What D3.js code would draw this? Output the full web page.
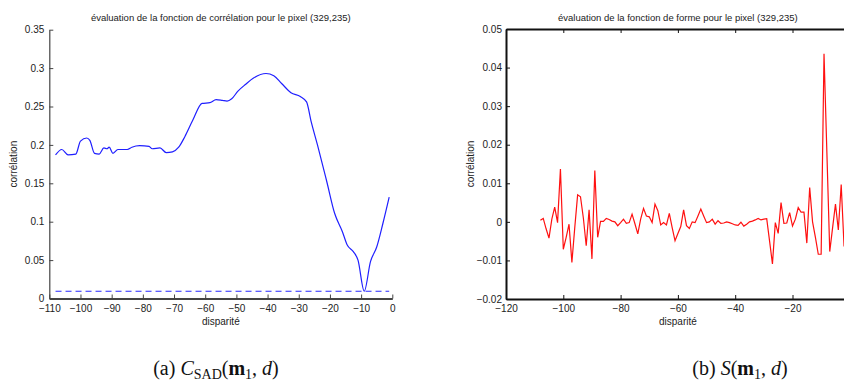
<!DOCTYPE html>
<html><head><meta charset="utf-8">
<script src="https://cdn.jsdelivr.net/npm/d3@7"></script>
<style>
html,body{margin:0;padding:0;background:#fff;}
svg{display:block;font-family:"Liberation Sans",Arial,sans-serif;}
</style></head>
<body>
<svg id="chart" width="844" height="385"></svg>
<script>
// ---- data (left: correlation function) ----
const leftDisp = [-108,-106,-104,-101.5,-100,-98,-97,-95.5,-94,-92.5,-91.5,-90.8,-89.6,-88,-85,-83.5,-81,-78,-77,-74.5,-72.5,-70.5,-68.5,-66.5,-64,-61,-58.5,-56.5,-54.5,-53,-51.5,-49.5,-47,-44.5,-40.5,-38,-35.5,-32.5,-29.5,-27.5,-26,-24,-21,-18.5,-16,-14.5,-12.5,-11,-9,-7,-5,-3,-1];
const leftCorr = [0.187,0.194,0.187,0.188,0.205,0.209,0.206,0.189,0.188,0.196,0.195,0.197,0.189,0.194,0.194,0.197,0.199,0.198,0.195,0.196,0.190,0.191,0.197,0.211,0.232,0.254,0.255,0.259,0.258,0.257,0.260,0.270,0.279,0.287,0.293,0.290,0.280,0.268,0.263,0.256,0.230,0.200,0.152,0.111,0.087,0.070,0.061,0.050,0.0095,0.048,0.067,0.098,0.132];
const leftMinLevel = 0.0095;
const leftMinRange = [-108, -1];
// ---- data (right: shape function) ----
const rightDisp = d3.range(-108, 0);
const rightVal = [0.0004,0.0009,-0.0018,-0.0042,0.0007,0.0038,-0.0002,0.0137,-0.0071,-0.0040,-0.0006,-0.0105,-0.0015,0.0070,0.0065,0.0010,-0.0062,0.0031,-0.0096,0.0133,-0.0040,0.0001,0.0001,0.0009,0.0006,0.0002,0.0000,-0.0010,-0.0002,0.0007,-0.0004,-0.0002,0.0020,-0.0005,-0.0031,0.0007,0.0035,0.0015,0.0013,-0.0002,0.0046,0.0029,-0.0008,-0.0002,-0.0008,0.0022,-0.0015,-0.0049,-0.0030,-0.0012,0.0031,-0.0010,-0.0017,0.0000,-0.0002,0.0015,0.0033,0.0015,-0.0002,0.0000,0.0007,-0.0006,0.0003,-0.0004,-0.0003,0.0000,-0.0002,-0.0005,-0.0008,-0.0009,-0.0001,-0.0011,-0.0006,0.0000,0.0002,0.0005,0.0009,0.0005,0.0007,0.0008,-0.0050,-0.0109,-0.0002,-0.0030,0.0050,-0.0004,-0.0003,0.0024,-0.0011,0.0007,0.0037,0.0025,0.0025,-0.0055,0.0089,0.0000,-0.0040,-0.0084,-0.0084,0.0436,0.0180,-0.0077,-0.0015,0.0046,-0.0021,0.0097,-0.0064,0.0020];
// ---- ticks / labels ----
const leftXTicks = d3.range(-110, 1, 10);
const leftYTicks = [0,0.05,0.1,0.15,0.2,0.25,0.3,0.35];
const rightXTicks = d3.range(-120, 1, 20);
const rightYTicks = [-0.02,-0.01,0,0.01,0.02,0.03,0.04,0.05];
const leftTitle = "évaluation de la fonction de corrélation pour le pixel (329,235)";
const rightTitle = "évaluation de la fonction de forme pour le pixel (329,235)";
const xLabel = "disparité";
const yLabel = "corrélation";

const svg = d3.select("#chart");
svg.append("rect").attr("width",844).attr("height",385).attr("fill","#fff");

const fmt = d => d3.format("")(d);

// ===== Left chart =====
const L = {x0:49.3, x1:392.3, y0:298.5, y1:29.7};
const lx = d3.scaleLinear().domain([-110,0]).range([L.x0,L.x1]);
const ly = d3.scaleLinear().domain([0,0.35]).range([L.y0,L.y1]);
const gl = svg.append("g");

gl.append("line").attr("x1",lx(leftMinRange[0])).attr("x2",lx(leftMinRange[1]))
  .attr("y1",ly(leftMinLevel)).attr("y2",ly(leftMinLevel))
  .attr("stroke","#2a2aff").attr("stroke-width",1.1).attr("stroke-dasharray","6,4");

gl.append("path").datum(leftDisp.map((d,i)=>[d,leftCorr[i]]))
  .attr("fill","none").attr("stroke","#1f1fff").attr("stroke-width",1.2)
  .attr("d", d3.line().x(d=>lx(d[0])).y(d=>ly(d[1])).curve(d3.curveMonotoneX));

const lxa = gl.append("g").attr("transform",`translate(0,${L.y0})`)
  .call(d3.axisBottom(lx).tickValues(leftXTicks).tickFormat(fmt).tickSizeInner(-4).tickSizeOuter(0).tickPadding(6));
const lya = gl.append("g").attr("transform",`translate(${L.x0},0)`)
  .call(d3.axisLeft(ly).tickValues(leftYTicks).tickFormat(fmt).tickSizeInner(-4).tickSizeOuter(0).tickPadding(5));
[lxa,lya].forEach(a=>{
  a.selectAll("text").attr("font-size",10).attr("fill","#222").attr("font-family","Liberation Sans, Arial, sans-serif");
  a.selectAll("line").attr("stroke","#444");
  a.select(".domain").attr("stroke","#444");
});
lxa.select(".domain").attr("stroke-width",2);
lya.select(".domain").attr("stroke-width",1.2);

gl.append("text").attr("x",(L.x0+L.x1)/2).attr("y",20.5).attr("text-anchor","middle")
  .attr("font-size",9.5).attr("fill","#222").text(leftTitle);
gl.append("text").attr("x",(L.x0+L.x1)/2).attr("y",324.5).attr("text-anchor","middle")
  .attr("font-size",10).attr("fill","#222").text(xLabel);
gl.append("text").attr("transform",`translate(16.5,${(L.y0+L.y1)/2}) rotate(-90)`).attr("text-anchor","middle")
  .attr("font-size",10).attr("fill","#222").text(yLabel);

// ===== Right chart =====
const R = {x0:506, x1:849.8, y0:299, y1:29};
const rx = d3.scaleLinear().domain([-120,0]).range([R.x0,R.x1]);
const ry = d3.scaleLinear().domain([-0.02,0.05]).range([R.y0,R.y1]);
const gr = svg.append("g");

gr.append("path").datum(rightDisp.map((d,i)=>[d,rightVal[i]]))
  .attr("fill","none").attr("stroke","#ff1010").attr("stroke-width",1.2)
  .attr("stroke-linejoin","miter")
  .attr("d", d3.line().x(d=>rx(d[0])).y(d=>ry(d[1])));

const rxa = gr.append("g").attr("transform",`translate(0,${R.y0})`)
  .call(d3.axisBottom(rx).tickValues(rightXTicks).tickFormat(fmt).tickSizeInner(-4).tickSizeOuter(0).tickPadding(6));
const rxt = gr.append("g").attr("transform",`translate(0,${R.y1})`)
  .call(d3.axisTop(rx).tickValues(rightXTicks).tickFormat("").tickSizeInner(-4).tickSizeOuter(0));
const rya = gr.append("g").attr("transform",`translate(${R.x0},0)`)
  .call(d3.axisLeft(ry).tickValues(rightYTicks).tickFormat(fmt).tickSizeInner(-4).tickSizeOuter(0).tickPadding(4));
const ryr = gr.append("g").attr("transform",`translate(${R.x1},0)`)
  .call(d3.axisRight(ry).tickValues(rightYTicks).tickFormat("").tickSizeInner(-4).tickSizeOuter(0));
[rxa,rxt,rya,ryr].forEach(a=>{
  a.selectAll("text").attr("font-size",10).attr("fill","#222").attr("font-family","Liberation Sans, Arial, sans-serif");
  a.selectAll("line").attr("stroke","#111");
  a.select(".domain").attr("stroke","#111").attr("stroke-width",2);
});
rxa.selectAll(".tick").filter(d=>d===0).select("text").remove();

gr.append("text").attr("x",(R.x0+R.x1)/2).attr("y",20.5).attr("text-anchor","middle")
  .attr("font-size",9.5).attr("fill","#222").text(rightTitle);
gr.append("text").attr("x",(R.x0+R.x1)/2).attr("y",324.5).attr("text-anchor","middle")
  .attr("font-size",10).attr("fill","#222").text(xLabel);
gr.append("text").attr("transform",`translate(473.5,${(R.y0+R.y1)/2}) rotate(-90)`).attr("text-anchor","middle")
  .attr("font-size",10).attr("fill","#222").text(yLabel);

// ===== Captions =====
function caption(x, parts){
  const t = svg.append("text").attr("x",x).attr("y",375).attr("text-anchor","middle")
    .attr("font-family","'Liberation Serif','DejaVu Serif',serif").attr("font-size",20).attr("fill","#111");
  parts.forEach(p=>{
    const s = t.append("tspan").text(p.t);
    if(p.i) s.attr("font-style","italic");
    if(p.b) s.attr("font-weight","bold");
    if(p.sub) s.attr("font-size",14).attr("dy",4);
    if(p.up) s.attr("dy",-4);
  });
}
caption(216,[{t:"(a)  "},{t:"C",i:1},{t:"SAD",sub:1},{t:"(",up:1},{t:"m",b:1},{t:"1",sub:1},{t:", ",up:1},{t:"d",i:1},{t:")"}]);
caption(740,[{t:"(b)  "},{t:"S",i:1},{t:"("},{t:"m",b:1},{t:"1",sub:1},{t:", ",up:1},{t:"d",i:1},{t:")"}]);
</script>
</body></html>
